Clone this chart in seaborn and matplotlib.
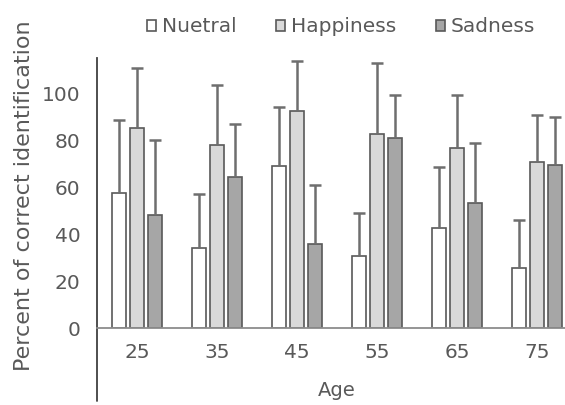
import numpy as np
import pandas as pd
import matplotlib
matplotlib.use("Agg")
import matplotlib.pyplot as plt
import seaborn as sns
from matplotlib.lines import Line2D

ages = ["25", "35", "45", "55", "65", "75"]
emotions = ["Nuetral", "Happiness", "Sadness"]
neutral = [57.5, 34.0, 68.8, 30.8, 42.4, 25.5]
happiness = [85.3, 78.0, 92.6, 82.6, 76.6, 70.8]
sadness = [48.3, 64.2, 35.9, 81.1, 53.3, 69.4]
neutral_top = [88.6, 57.1, 94.2, 48.8, 68.4, 46.2]
happiness_top = [110.7, 103.6, 113.8, 112.8, 99.4, 90.6]
sadness_top = [79.9, 86.9, 61.1, 99.4, 78.6, 90.0]

colors = ["#ffffff", "#d9d9d9", "#a6a6a6"]
edge = "#595959"
txt = "#595959"

vals = [neutral, happiness, sadness]
tops = [neutral_top, happiness_top, sadness_top]
rows = []
for e, v, t in zip(emotions, vals, tops):
    for a, vv, tt in zip(ages, v, t):
        rows.append({"Age": a, "Emotion": e, "value": vv, "err": tt - vv})
df = pd.DataFrame(rows)

sns.set_style("white")
plt.rcParams["font.family"] = ["DejaVu Sans"]

fig = plt.figure(figsize=(5.65, 4.05), dpi=100)
ax = fig.add_axes([97 / 565, 77 / 405, 468 / 565, 270 / 405])

sns.barplot(data=df, x="Age", y="value", hue="Emotion", hue_order=emotions,
            order=ages, palette=colors, edgecolor=edge, linewidth=1.2,
            errorbar=None, width=0.675, gap=0.167, ax=ax, legend=False)

for cont, e in zip(ax.containers, emotions):
    sub = df[df.Emotion == e].set_index("Age").loc[ages]
    xs = [p.get_x() + p.get_width() / 2 for p in cont.patches]
    ys = sub["value"].values
    errs = sub["err"].values
    _, caps, _ = ax.errorbar(xs, ys, yerr=[np.zeros_like(errs), errs], fmt="none",
                             ecolor="#6e6e6e", elinewidth=1.8, capsize=4,
                             capthick=1.8, zorder=1)
    caps[0].set_visible(False)

ax.set_xlim(-0.5, 5.35)
ax.set_ylim(0, 115)
ax.set_yticks([0, 20, 40, 60, 80, 100])
ax.tick_params(axis="both", length=0, labelsize=14.5, colors=txt)
ax.tick_params(axis="y", pad=12)
ax.tick_params(axis="x", pad=11)
for s in ["top", "right"]:
    ax.spines[s].set_visible(False)
ax.spines["left"].set_color("#404040")
ax.spines["bottom"].set_color("#8c8c8c")
ax.spines["left"].set_linewidth(1.3)
ax.spines["bottom"].set_linewidth(1.3)
ax.add_line(Line2D([0, 0], [0, -0.27], transform=ax.transAxes, color="#404040",
                   lw=1.3, clip_on=False))

ax.set_xlabel("Age", fontsize=14, color=txt, va="center")
ax.xaxis.set_label_coords(240 / 468, -62 / 270)
ax.set_ylabel("Percent of correct identification", fontsize=16, color=txt,
              va="center")
ax.yaxis.set_label_coords(-73 / 468, 132 / 270)

handles = [plt.Rectangle((0, 0), 1, 1, facecolor=c, edgecolor=edge, lw=1.2)
           for c in colors]
fig.legend(handles, emotions, loc="center", bbox_to_anchor=(341 / 565, 1 - 27 / 405),
           ncol=3, frameon=False, fontsize=14.5, labelcolor=txt,
           handlelength=0.45, handleheight=0.45, handletextpad=0.3, columnspacing=1.95)

fig.savefig("out.png", dpi=100)
